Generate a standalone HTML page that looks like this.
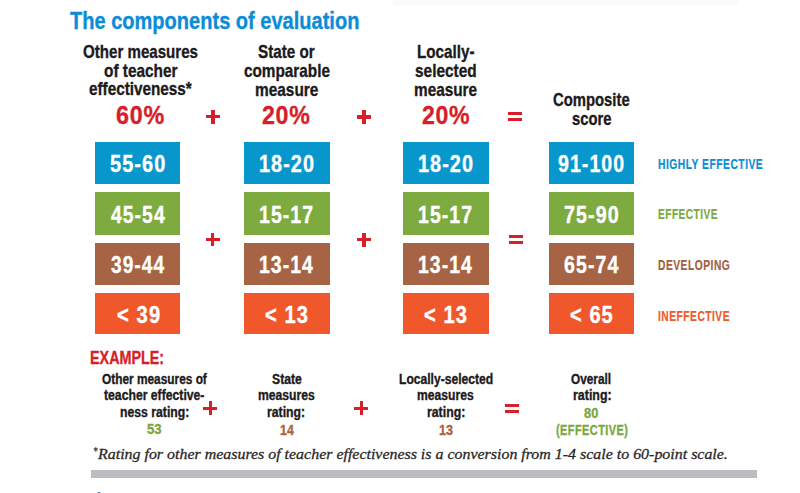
<!DOCTYPE html>
<html><head><meta charset="utf-8"><style>
html,body{margin:0;padding:0;background:#fff;}
body{width:800px;height:493px;position:relative;overflow:hidden;font-family:"Liberation Sans",sans-serif;}
.b{position:absolute;}
.t{position:absolute;white-space:nowrap;transform-origin:0 0;}
.m{display:inline-block;width:0;height:0;}
</style></head><body>
<div class="b" style="left:95.00px;top:141.80px;width:85.30px;height:42.50px;background:#0797cc"></div>
<div class="b" style="left:95.00px;top:192.30px;width:85.30px;height:42.40px;background:#7dab40"></div>
<div class="b" style="left:95.00px;top:242.90px;width:85.30px;height:41.90px;background:#a66444"></div>
<div class="b" style="left:95.00px;top:292.80px;width:85.30px;height:41.70px;background:#f0582c"></div>
<div class="b" style="left:244.00px;top:141.80px;width:85.50px;height:42.50px;background:#0797cc"></div>
<div class="b" style="left:244.00px;top:192.30px;width:85.50px;height:42.40px;background:#7dab40"></div>
<div class="b" style="left:244.00px;top:242.90px;width:85.50px;height:41.90px;background:#a66444"></div>
<div class="b" style="left:244.00px;top:292.80px;width:85.50px;height:41.70px;background:#f0582c"></div>
<div class="b" style="left:403.10px;top:141.80px;width:85.70px;height:42.50px;background:#0797cc"></div>
<div class="b" style="left:403.10px;top:192.30px;width:85.70px;height:42.40px;background:#7dab40"></div>
<div class="b" style="left:403.10px;top:242.90px;width:85.70px;height:41.90px;background:#a66444"></div>
<div class="b" style="left:403.10px;top:292.80px;width:85.70px;height:41.70px;background:#f0582c"></div>
<div class="b" style="left:549.10px;top:141.80px;width:85.30px;height:42.50px;background:#0797cc"></div>
<div class="b" style="left:549.10px;top:192.30px;width:85.30px;height:42.40px;background:#7dab40"></div>
<div class="b" style="left:549.10px;top:242.90px;width:85.30px;height:41.90px;background:#a66444"></div>
<div class="b" style="left:549.10px;top:292.80px;width:85.30px;height:41.70px;background:#f0582c"></div>
<div class="b" style="left:205.85px;top:114.90px;width:13.90px;height:3.60px;background:#d51f29"></div><div class="b" style="left:211.00px;top:109.75px;width:3.60px;height:13.90px;background:#d51f29"></div>
<div class="b" style="left:356.85px;top:115.00px;width:13.90px;height:3.60px;background:#d51f29"></div><div class="b" style="left:362.00px;top:109.85px;width:3.60px;height:13.90px;background:#d51f29"></div>
<div class="b" style="left:507.90px;top:112.20px;width:13.90px;height:3.30px;background:#d51f29"></div><div class="b" style="left:507.90px;top:118.10px;width:13.90px;height:3.20px;background:#d51f29"></div>
<div class="b" style="left:205.75px;top:237.70px;width:13.90px;height:3.60px;background:#d51f29"></div><div class="b" style="left:210.90px;top:232.55px;width:3.60px;height:13.90px;background:#d51f29"></div>
<div class="b" style="left:357.25px;top:237.80px;width:13.90px;height:3.60px;background:#d51f29"></div><div class="b" style="left:362.40px;top:232.65px;width:3.60px;height:13.90px;background:#d51f29"></div>
<div class="b" style="left:509.20px;top:234.90px;width:13.80px;height:3.10px;background:#d51f29"></div><div class="b" style="left:509.20px;top:241.00px;width:13.80px;height:3.10px;background:#d51f29"></div>
<div class="b" style="left:203.35px;top:406.50px;width:13.90px;height:3.60px;background:#d51f29"></div><div class="b" style="left:208.50px;top:401.35px;width:3.60px;height:13.90px;background:#d51f29"></div>
<div class="b" style="left:354.45px;top:406.50px;width:13.90px;height:3.60px;background:#d51f29"></div><div class="b" style="left:359.60px;top:401.35px;width:3.60px;height:13.90px;background:#d51f29"></div>
<div class="b" style="left:505.30px;top:403.80px;width:14.20px;height:3.20px;background:#d51f29"></div><div class="b" style="left:505.30px;top:409.90px;width:14.20px;height:3.20px;background:#d51f29"></div>
<div class="b" style="left:393px;top:0px;width:345px;height:5px;background:#fafafa"></div>
<div class="b" style="left:91.2px;top:470.1px;width:665.6px;height:7.5px;background:#bcbdc1"></div>
<div class="b" style="left:97px;top:491.5px;width:4px;height:2px;border-radius:2px 2px 0 0;background:#3a78c0"></div>
<div class="t" id="t0" style="left:69.78px;top:8.51px;font-family:'Liberation Sans';font-weight:bold;font-style:normal;font-size:24.50px;line-height:24.50px;color:#0c8cd7;transform:scaleX(0.8177);-webkit-text-stroke:0.35px #0c8cd7;letter-spacing:0px">The components of evaluation<span class="m"></span></div>
<div class="t" id="t1" style="left:83.34px;top:41.90px;font-family:'Liberation Sans';font-weight:bold;font-style:normal;font-size:19.00px;line-height:19.00px;color:#1c1a1b;transform:scaleX(0.7949);-webkit-text-stroke:0.35px #1c1a1b;letter-spacing:0px">Other measures<span class="m"></span></div>
<div class="t" id="t2" style="left:103.73px;top:60.61px;font-family:'Liberation Sans';font-weight:bold;font-style:normal;font-size:19.00px;line-height:19.00px;color:#1c1a1b;transform:scaleX(0.8101);-webkit-text-stroke:0.35px #1c1a1b;letter-spacing:0px">of teacher<span class="m"></span></div>
<div class="t" id="t3" style="left:88.73px;top:79.32px;font-family:'Liberation Sans';font-weight:bold;font-style:normal;font-size:19.00px;line-height:19.00px;color:#1c1a1b;transform:scaleX(0.8045);-webkit-text-stroke:0.35px #1c1a1b;letter-spacing:0px">effectiveness*<span class="m"></span></div>
<div class="t" id="t4" style="left:257.53px;top:41.90px;font-family:'Liberation Sans';font-weight:bold;font-style:normal;font-size:19.00px;line-height:19.00px;color:#1c1a1b;transform:scaleX(0.8011);-webkit-text-stroke:0.35px #1c1a1b;letter-spacing:0px">State or<span class="m"></span></div>
<div class="t" id="t5" style="left:243.53px;top:60.61px;font-family:'Liberation Sans';font-weight:bold;font-style:normal;font-size:19.00px;line-height:19.00px;color:#1c1a1b;transform:scaleX(0.8055);-webkit-text-stroke:0.35px #1c1a1b;letter-spacing:0px">comparable<span class="m"></span></div>
<div class="t" id="t6" style="left:254.52px;top:79.51px;font-family:'Liberation Sans';font-weight:bold;font-style:normal;font-size:19.00px;line-height:19.00px;color:#1c1a1b;transform:scaleX(0.8115);-webkit-text-stroke:0.35px #1c1a1b;letter-spacing:0px">measure<span class="m"></span></div>
<div class="t" id="t7" style="left:416.63px;top:41.90px;font-family:'Liberation Sans';font-weight:bold;font-style:normal;font-size:19.00px;line-height:19.00px;color:#1c1a1b;transform:scaleX(0.8016);-webkit-text-stroke:0.35px #1c1a1b;letter-spacing:0px">Locally-<span class="m"></span></div>
<div class="t" id="t8" style="left:414.69px;top:60.61px;font-family:'Liberation Sans';font-weight:bold;font-style:normal;font-size:19.00px;line-height:19.00px;color:#1c1a1b;transform:scaleX(0.8107);-webkit-text-stroke:0.35px #1c1a1b;letter-spacing:0px">selected<span class="m"></span></div>
<div class="t" id="t9" style="left:413.62px;top:79.51px;font-family:'Liberation Sans';font-weight:bold;font-style:normal;font-size:19.00px;line-height:19.00px;color:#1c1a1b;transform:scaleX(0.8073);-webkit-text-stroke:0.35px #1c1a1b;letter-spacing:0px">measure<span class="m"></span></div>
<div class="t" id="t10" style="left:552.53px;top:89.90px;font-family:'Liberation Sans';font-weight:bold;font-style:normal;font-size:19.00px;line-height:19.00px;color:#1c1a1b;transform:scaleX(0.7810);-webkit-text-stroke:0.35px #1c1a1b;letter-spacing:0px">Composite<span class="m"></span></div>
<div class="t" id="t11" style="left:571.66px;top:108.82px;font-family:'Liberation Sans';font-weight:bold;font-style:normal;font-size:19.00px;line-height:19.00px;color:#1c1a1b;transform:scaleX(0.7769);-webkit-text-stroke:0.35px #1c1a1b;letter-spacing:0px">score<span class="m"></span></div>
<div class="t" id="t12" style="left:116.28px;top:101.81px;font-family:'Liberation Sans';font-weight:bold;font-style:normal;font-size:26.00px;line-height:26.00px;color:#d51f29;transform:scaleX(0.8978);-webkit-text-stroke:0.35px #d51f29;letter-spacing:0.8px">60%<span class="m"></span></div>
<div class="t" id="t13" style="left:261.75px;top:101.81px;font-family:'Liberation Sans';font-weight:bold;font-style:normal;font-size:26.00px;line-height:26.00px;color:#d51f29;transform:scaleX(0.8919);-webkit-text-stroke:0.35px #d51f29;letter-spacing:0.8px">20%<span class="m"></span></div>
<div class="t" id="t14" style="left:421.53px;top:101.81px;font-family:'Liberation Sans';font-weight:bold;font-style:normal;font-size:26.00px;line-height:26.00px;color:#d51f29;transform:scaleX(0.8885);-webkit-text-stroke:0.35px #d51f29;letter-spacing:0.8px">20%<span class="m"></span></div>
<div class="t" id="t15" style="left:110.16px;top:152.00px;font-family:'Liberation Sans';font-weight:bold;font-style:normal;font-size:24.30px;line-height:24.30px;color:#ffffff;transform:scaleX(0.8217);-webkit-text-stroke:0.35px #ffffff;letter-spacing:1.3px">55-60<span class="m"></span></div>
<div class="t" id="t16" style="left:110.68px;top:202.50px;font-family:'Liberation Sans';font-weight:bold;font-style:normal;font-size:24.30px;line-height:24.30px;color:#ffffff;transform:scaleX(0.7970);-webkit-text-stroke:0.35px #ffffff;letter-spacing:1.3px">45-54<span class="m"></span></div>
<div class="t" id="t17" style="left:110.61px;top:252.81px;font-family:'Liberation Sans';font-weight:bold;font-style:normal;font-size:24.30px;line-height:24.30px;color:#ffffff;transform:scaleX(0.7881);-webkit-text-stroke:0.35px #ffffff;letter-spacing:1.3px">39-44<span class="m"></span></div>
<div class="t" id="t18" style="left:116.50px;top:302.81px;font-family:'Liberation Sans';font-weight:bold;font-style:normal;font-size:24.30px;line-height:24.30px;color:#ffffff;transform:scaleX(0.8323);-webkit-text-stroke:0.35px #ffffff;letter-spacing:1.3px">&lt; 39<span class="m"></span></div>
<div class="t" id="t19" style="left:258.96px;top:152.00px;font-family:'Liberation Sans';font-weight:bold;font-style:normal;font-size:24.30px;line-height:24.30px;color:#ffffff;transform:scaleX(0.8160);-webkit-text-stroke:0.35px #ffffff;letter-spacing:1.3px">18-20<span class="m"></span></div>
<div class="t" id="t20" style="left:258.99px;top:202.50px;font-family:'Liberation Sans';font-weight:bold;font-style:normal;font-size:24.30px;line-height:24.30px;color:#ffffff;transform:scaleX(0.8027);-webkit-text-stroke:0.35px #ffffff;letter-spacing:1.3px">15-17<span class="m"></span></div>
<div class="t" id="t21" style="left:259.28px;top:252.81px;font-family:'Liberation Sans';font-weight:bold;font-style:normal;font-size:24.30px;line-height:24.30px;color:#ffffff;transform:scaleX(0.8003);-webkit-text-stroke:0.35px #ffffff;letter-spacing:1.3px">13-14<span class="m"></span></div>
<div class="t" id="t22" style="left:264.57px;top:302.81px;font-family:'Liberation Sans';font-weight:bold;font-style:normal;font-size:24.30px;line-height:24.30px;color:#ffffff;transform:scaleX(0.8293);-webkit-text-stroke:0.35px #ffffff;letter-spacing:1.3px">&lt; 13<span class="m"></span></div>
<div class="t" id="t23" style="left:417.96px;top:152.00px;font-family:'Liberation Sans';font-weight:bold;font-style:normal;font-size:24.30px;line-height:24.30px;color:#ffffff;transform:scaleX(0.8160);-webkit-text-stroke:0.35px #ffffff;letter-spacing:1.3px">18-20<span class="m"></span></div>
<div class="t" id="t24" style="left:417.99px;top:202.50px;font-family:'Liberation Sans';font-weight:bold;font-style:normal;font-size:24.30px;line-height:24.30px;color:#ffffff;transform:scaleX(0.8027);-webkit-text-stroke:0.35px #ffffff;letter-spacing:1.3px">15-17<span class="m"></span></div>
<div class="t" id="t25" style="left:418.28px;top:252.81px;font-family:'Liberation Sans';font-weight:bold;font-style:normal;font-size:24.30px;line-height:24.30px;color:#ffffff;transform:scaleX(0.8003);-webkit-text-stroke:0.35px #ffffff;letter-spacing:1.3px">13-14<span class="m"></span></div>
<div class="t" id="t26" style="left:423.57px;top:302.81px;font-family:'Liberation Sans';font-weight:bold;font-style:normal;font-size:24.30px;line-height:24.30px;color:#ffffff;transform:scaleX(0.8293);-webkit-text-stroke:0.35px #ffffff;letter-spacing:1.3px">&lt; 13<span class="m"></span></div>
<div class="t" id="t27" style="left:558.31px;top:152.00px;font-family:'Liberation Sans';font-weight:bold;font-style:normal;font-size:24.30px;line-height:24.30px;color:#ffffff;transform:scaleX(0.8054);-webkit-text-stroke:0.35px #ffffff;letter-spacing:1.3px">91-100<span class="m"></span></div>
<div class="t" id="t28" style="left:564.27px;top:202.50px;font-family:'Liberation Sans';font-weight:bold;font-style:normal;font-size:24.30px;line-height:24.30px;color:#ffffff;transform:scaleX(0.8136);-webkit-text-stroke:0.35px #ffffff;letter-spacing:1.3px">75-90<span class="m"></span></div>
<div class="t" id="t29" style="left:563.52px;top:252.81px;font-family:'Liberation Sans';font-weight:bold;font-style:normal;font-size:24.30px;line-height:24.30px;color:#ffffff;transform:scaleX(0.8065);-webkit-text-stroke:0.35px #ffffff;letter-spacing:1.3px">65-74<span class="m"></span></div>
<div class="t" id="t30" style="left:569.95px;top:302.81px;font-family:'Liberation Sans';font-weight:bold;font-style:normal;font-size:24.30px;line-height:24.30px;color:#ffffff;transform:scaleX(0.8240);-webkit-text-stroke:0.35px #ffffff;letter-spacing:1.3px">&lt; 65<span class="m"></span></div>
<div class="t" id="t31" style="left:658.14px;top:157.01px;font-family:'Liberation Sans';font-weight:bold;font-style:normal;font-size:14.70px;line-height:14.70px;color:#0a8ed0;transform:scaleX(0.7017);-webkit-text-stroke:0.2px #0a8ed0;letter-spacing:0.7px">HIGHLY EFFECTIVE<span class="m"></span></div>
<div class="t" id="t32" style="left:658.18px;top:207.40px;font-family:'Liberation Sans';font-weight:bold;font-style:normal;font-size:14.70px;line-height:14.70px;color:#7aab3d;transform:scaleX(0.6891);-webkit-text-stroke:0.2px #7aab3d;letter-spacing:0.7px">EFFECTIVE<span class="m"></span></div>
<div class="t" id="t33" style="left:658.44px;top:258.32px;font-family:'Liberation Sans';font-weight:bold;font-style:normal;font-size:14.70px;line-height:14.70px;color:#a5603f;transform:scaleX(0.6996);-webkit-text-stroke:0.2px #a5603f;letter-spacing:0.7px">DEVELOPING<span class="m"></span></div>
<div class="t" id="t34" style="left:658.44px;top:308.90px;font-family:'Liberation Sans';font-weight:bold;font-style:normal;font-size:14.70px;line-height:14.70px;color:#ef5a2a;transform:scaleX(0.6979);-webkit-text-stroke:0.2px #ef5a2a;letter-spacing:0.7px">INEFFECTIVE<span class="m"></span></div>
<div class="t" id="t35" style="left:89.81px;top:348.71px;font-family:'Liberation Sans';font-weight:bold;font-style:normal;font-size:18.50px;line-height:18.50px;color:#d51f29;transform:scaleX(0.7755);-webkit-text-stroke:0.35px #d51f29;letter-spacing:0px">EXAMPLE:<span class="m"></span></div>
<div class="t" id="t36" style="left:101.63px;top:371.90px;font-family:'Liberation Sans';font-weight:bold;font-style:normal;font-size:14.50px;line-height:14.50px;color:#1c1a1b;transform:scaleX(0.8181);-webkit-text-stroke:0.35px #1c1a1b;letter-spacing:0px">Other measures of<span class="m"></span></div>
<div class="t" id="t37" style="left:104.35px;top:388.00px;font-family:'Liberation Sans';font-weight:bold;font-style:normal;font-size:14.50px;line-height:14.50px;color:#1c1a1b;transform:scaleX(0.8420);-webkit-text-stroke:0.35px #1c1a1b;letter-spacing:0px">teacher effective-<span class="m"></span></div>
<div class="t" id="t38" style="left:119.69px;top:404.81px;font-family:'Liberation Sans';font-weight:bold;font-style:normal;font-size:14.50px;line-height:14.50px;color:#1c1a1b;transform:scaleX(0.8430);-webkit-text-stroke:0.35px #1c1a1b;letter-spacing:0px">ness rating:<span class="m"></span></div>
<div class="t" id="t39" style="left:146.77px;top:422.00px;font-family:'Liberation Sans';font-weight:bold;font-style:normal;font-size:14.50px;line-height:14.50px;color:#7aa840;transform:scaleX(0.9038);-webkit-text-stroke:0.35px #7aa840;letter-spacing:0px">53<span class="m"></span></div>
<div class="t" id="t40" style="left:271.64px;top:371.90px;font-family:'Liberation Sans';font-weight:bold;font-style:normal;font-size:14.50px;line-height:14.50px;color:#1c1a1b;transform:scaleX(0.8410);-webkit-text-stroke:0.35px #1c1a1b;letter-spacing:0px">State<span class="m"></span></div>
<div class="t" id="t41" style="left:257.78px;top:388.00px;font-family:'Liberation Sans';font-weight:bold;font-style:normal;font-size:14.50px;line-height:14.50px;color:#1c1a1b;transform:scaleX(0.8389);-webkit-text-stroke:0.35px #1c1a1b;letter-spacing:0px">measures<span class="m"></span></div>
<div class="t" id="t42" style="left:267.27px;top:404.81px;font-family:'Liberation Sans';font-weight:bold;font-style:normal;font-size:14.50px;line-height:14.50px;color:#1c1a1b;transform:scaleX(0.8430);-webkit-text-stroke:0.35px #1c1a1b;letter-spacing:0px">rating:<span class="m"></span></div>
<div class="t" id="t43" style="left:279.60px;top:422.50px;font-family:'Liberation Sans';font-weight:bold;font-style:normal;font-size:14.50px;line-height:14.50px;color:#ab6240;transform:scaleX(0.8532);-webkit-text-stroke:0.35px #ab6240;letter-spacing:0px">14<span class="m"></span></div>
<div class="t" id="t44" style="left:398.71px;top:371.90px;font-family:'Liberation Sans';font-weight:bold;font-style:normal;font-size:14.50px;line-height:14.50px;color:#1c1a1b;transform:scaleX(0.8347);-webkit-text-stroke:0.35px #1c1a1b;letter-spacing:0px">Locally-selected<span class="m"></span></div>
<div class="t" id="t45" style="left:416.99px;top:388.00px;font-family:'Liberation Sans';font-weight:bold;font-style:normal;font-size:14.50px;line-height:14.50px;color:#1c1a1b;transform:scaleX(0.8363);-webkit-text-stroke:0.35px #1c1a1b;letter-spacing:0px">measures<span class="m"></span></div>
<div class="t" id="t46" style="left:426.86px;top:404.81px;font-family:'Liberation Sans';font-weight:bold;font-style:normal;font-size:14.50px;line-height:14.50px;color:#1c1a1b;transform:scaleX(0.8476);-webkit-text-stroke:0.35px #1c1a1b;letter-spacing:0px">rating:<span class="m"></span></div>
<div class="t" id="t47" style="left:438.67px;top:422.81px;font-family:'Liberation Sans';font-weight:bold;font-style:normal;font-size:14.50px;line-height:14.50px;color:#ab6240;transform:scaleX(0.8702);-webkit-text-stroke:0.35px #ab6240;letter-spacing:0px">13<span class="m"></span></div>
<div class="t" id="t48" style="left:571.42px;top:371.90px;font-family:'Liberation Sans';font-weight:bold;font-style:normal;font-size:14.50px;line-height:14.50px;color:#1c1a1b;transform:scaleX(0.8132);-webkit-text-stroke:0.35px #1c1a1b;letter-spacing:0px">Overall<span class="m"></span></div>
<div class="t" id="t49" style="left:572.57px;top:388.00px;font-family:'Liberation Sans';font-weight:bold;font-style:normal;font-size:14.50px;line-height:14.50px;color:#1c1a1b;transform:scaleX(0.8570);-webkit-text-stroke:0.35px #1c1a1b;letter-spacing:0px">rating:<span class="m"></span></div>
<div class="t" id="t50" style="left:584.42px;top:406.00px;font-family:'Liberation Sans';font-weight:bold;font-style:normal;font-size:14.50px;line-height:14.50px;color:#7aa840;transform:scaleX(0.8838);-webkit-text-stroke:0.35px #7aa840;letter-spacing:0px">80<span class="m"></span></div>
<div class="t" id="t51" style="left:555.59px;top:422.81px;font-family:'Liberation Sans';font-weight:bold;font-style:normal;font-size:14.50px;line-height:14.50px;color:#7aa840;transform:scaleX(0.7539);-webkit-text-stroke:0.35px #7aa840;letter-spacing:0.6px">(EFFECTIVE)<span class="m"></span></div>
<div class="t" id="t52" style="left:98.12px;top:445.81px;font-family:'Liberation Serif';font-weight:normal;font-style:italic;font-size:15.60px;line-height:15.60px;color:#2a2627;transform:scaleX(1.0218);-webkit-text-stroke:0.3px #2a2627;letter-spacing:0px">Rating for other measures of teacher effectiveness is a conversion from 1-4 scale to 60-point scale.<span class="m"></span></div>
<div class="t" id="t53" style="left:92.53px;top:444.00px;font-family:'Liberation Serif';font-weight:normal;font-style:italic;font-size:13.00px;line-height:13.00px;color:#2a2627;transform:scaleX(0.6863);-webkit-text-stroke:0.2px #2a2627;letter-spacing:0px">*<span class="m"></span></div>
</body></html>
